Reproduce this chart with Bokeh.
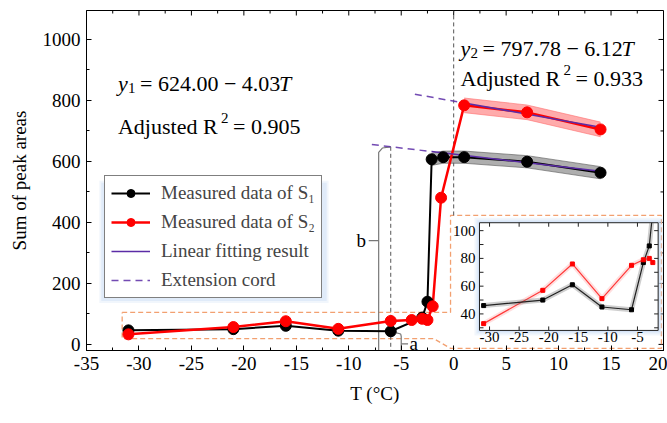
import numpy as np
from bokeh.plotting import figure
from bokeh.models import (Range1d, SingleIntervalTicker, Label, Legend, LegendItem,
                          CustomJSTickFormatter)
from bokeh.embed import file_html
from bokeh.resources import INLINE

FONT = "Liberation Serif"

# ---------------- data ----------------
T_S1 = [-31, -21, -16, -11, -6, -3, -2.5, -2.1, -1, 1, 7, 14]
V_S1 = [46, 50, 61, 45, 43, 88, 140, 607, 614, 614, 599, 563]
T_S2 = [-31, -21, -16, -11, -6, -4, -3, -2.5, -2, -1.2, 1, 7, 14]
V_S2 = [33, 57, 76, 51, 77, 80, 84, 80, 125, 481, 784, 761, 705]

FIT1 = (624.00, -4.03)
FIT2 = (797.78, -6.12)
FIT1_T = [-2.1, 14]
EXT1_T = [-7.8, -2.1]
FIT2_T = [1, 14]
EXT2_T = [-3.7, 1]

INSET_T_S1 = [-31, -21, -16, -11, -6, -4, -3]
INSET_V_S1 = [46, 50, 61, 45, 43, 77, 89]
INSET_T_S2 = [-31, -21, -16, -11, -6, -4, -3, -2.4]
INSET_V_S2 = [33, 57, 76, 51, 75, 79, 80, 77]
INSET_S1_EXIT = (-2.6, 105.7)

X_TICK_STEP = 5
Y_TICK_STEP = 200
INSET_XTICKS = [-30, -25, -20, -15, -10, -5]
INSET_YTICKS = [40, 60, 80, 100]

# ---------------- layout constants ----------------
X_RANGE = (-35, 20)
Y_RANGE = (-20, 1095)
INSET_BOX = (2.46, 19.49, 45.8, 399.0)      # where the inset frame sits (main coords)
INSET_XR = (-31.7, -1.5)
INSET_YR = (28.1, 105.7)
BAND1_HALF = 20
BAND2_HALF = 24
FRAME_W = 577
FRAME_H = 340

BLACK = "black"
RED = "#ff0000"
PURPLE = "#5b2ca6"
ORANGE = "#f2a070"
GRAY = "#555555"

p = figure(frame_width=FRAME_W, frame_height=FRAME_H,
           x_range=Range1d(*X_RANGE), y_range=Range1d(*Y_RANGE),
           output_backend="svg", toolbar_location=None,
           min_border_left=86, min_border_right=4, min_border_top=10, min_border_bottom=73)
p.xgrid.visible = False
p.ygrid.visible = False
p.outline_line_color = "black"
p.outline_line_width = 1
p.background_fill_color = "white"
p.border_fill_color = "white"

fmt = CustomJSTickFormatter(code="return String(tick);")

p.xaxis.ticker = SingleIntervalTicker(interval=X_TICK_STEP, num_minor_ticks=2)
p.yaxis.ticker = SingleIntervalTicker(interval=Y_TICK_STEP, num_minor_ticks=2)
for ax in list(p.xaxis) + list(p.yaxis):
    ax.major_tick_in = 5
    ax.major_tick_out = 0
    ax.minor_tick_in = 3
    ax.minor_tick_out = 0
    ax.axis_line_color = "black"
    ax.major_label_text_font = FONT
    ax.major_label_text_font_size = "19px"
    ax.major_label_text_color = "black"
    ax.major_label_standoff = 6
    ax.formatter = fmt
    ax.axis_label_text_font = FONT
    ax.axis_label_text_font_size = "19px"
    ax.axis_label_text_font_style = "normal"
    ax.axis_label_text_color = "black"
p.xaxis.axis_label = "T (\u00b0C)"
p.xaxis.axis_label_standoff = 10
p.yaxis.axis_label = "Sum of peak areas"
p.yaxis.axis_label_standoff = 10

px_x = FRAME_W / (X_RANGE[1] - X_RANGE[0])     # px per main x unit
px_y = FRAME_H / (Y_RANGE[1] - Y_RANGE[0])     # px per main y unit

# mirrored inward ticks on top and right edges
xt_major = np.arange(-35, 20.01, X_TICK_STEP)
xt_minor = np.arange(-32.5, 20.01, X_TICK_STEP)
yt_major = np.arange(0, 1000.01, Y_TICK_STEP)
yt_minor = np.arange(100, 1000.01, Y_TICK_STEP)
p.segment(x0=xt_major, x1=xt_major, y0=[Y_RANGE[1]] * len(xt_major),
          y1=[Y_RANGE[1] - 5 / px_y] * len(xt_major), line_color="black")
p.segment(x0=xt_minor, x1=xt_minor, y0=[Y_RANGE[1]] * len(xt_minor),
          y1=[Y_RANGE[1] - 3 / px_y] * len(xt_minor), line_color="black")
p.segment(x0=[X_RANGE[1]] * len(yt_major), x1=[X_RANGE[1] - 5 / px_x] * len(yt_major),
          y0=yt_major, y1=yt_major, line_color="black")
p.segment(x0=[X_RANGE[1]] * len(yt_minor), x1=[X_RANGE[1] - 3 / px_x] * len(yt_minor),
          y0=yt_minor, y1=yt_minor, line_color="black")


# ---------------- inset ranges (placed through extra ranges) ----------------
def extra(r_main, box0, box1, ins0, ins1):
    b = (ins1 - ins0) / (box1 - box0)
    a = ins0 - b * box0
    return Range1d(a + b * r_main[0], a + b * r_main[1])


p.extra_x_ranges = {"inset": extra(X_RANGE, INSET_BOX[0], INSET_BOX[1], *INSET_XR)}
p.extra_y_ranges = {"inset": extra(Y_RANGE, INSET_BOX[2], INSET_BOX[3], *INSET_YR)}
IN = dict(x_range_name="inset", y_range_name="inset")

# ---------------- orange dashed callout ----------------
ORANGE_X = [-31.6, -0.3, -0.3, 19.8, 19.8, -0.3, -1.9, -31.6, -31.6]
ORANGE_Y = [105, 105, 423, 423, -13, -13, 19, 19, 105]
p.line(ORANGE_X, ORANGE_Y, line_color=ORANGE, line_width=1.3, line_dash="5 3")

# ---------------- inset frame with glow ----------------
for g, a in [(5, 0.3), (3, 0.45), (1.5, 0.6)]:
    p.quad(left=INSET_BOX[0] - g / px_x, right=INSET_BOX[1] + g / px_x,
           bottom=INSET_BOX[2] - g / px_y, top=INSET_BOX[3] + g / px_y,
           fill_color="#cfe0f6", fill_alpha=a, line_color=None)
p.quad(left=INSET_XR[0], right=INSET_XR[1], bottom=INSET_YR[0], top=INSET_YR[1],
       fill_color="white", line_color="#222222", line_width=1, **IN)

in_w_px = (INSET_BOX[1] - INSET_BOX[0]) * px_x
in_h_px = (INSET_BOX[3] - INSET_BOX[2]) * px_y
dx_in = 4 * (INSET_XR[1] - INSET_XR[0]) / in_w_px
dy_in = 4 * (INSET_YR[1] - INSET_YR[0]) / in_h_px
yt_all = [30, 40, 50, 60, 70, 80, 90, 100]
p.segment(x0=[INSET_XR[0]] * len(yt_all), x1=[INSET_XR[0] + dx_in] * len(yt_all),
          y0=yt_all, y1=yt_all, line_color="#222222", line_width=1, **IN)
p.segment(x0=[INSET_XR[1]] * len(yt_all), x1=[INSET_XR[1] - dx_in] * len(yt_all),
          y0=yt_all, y1=yt_all, line_color="#222222", line_width=1, **IN)
p.segment(x0=INSET_XTICKS, x1=INSET_XTICKS, y0=[INSET_YR[0]] * len(INSET_XTICKS),
          y1=[INSET_YR[0] + dy_in] * len(INSET_XTICKS), line_color="#222222", line_width=1, **IN)
p.segment(x0=INSET_XTICKS, x1=INSET_XTICKS, y0=[INSET_YR[1]] * len(INSET_XTICKS),
          y1=[INSET_YR[1] - dy_in] * len(INSET_XTICKS), line_color="#222222", line_width=1, **IN)
p.text(x=INSET_XTICKS, y=[INSET_YR[0]] * len(INSET_XTICKS), text=[str(t) for t in INSET_XTICKS],
       text_font=FONT, text_font_size="15px", text_align="center", text_baseline="top",
       y_offset=2, text_color="black", **IN)
p.text(x=[INSET_XR[0]] * len(INSET_YTICKS), y=INSET_YTICKS, text=[str(t) for t in INSET_YTICKS],
       text_font=FONT, text_font_size="15px", text_align="right", text_baseline="middle",
       x_offset=-4, text_color="black", **IN)

# inset series (with soft glow)
p.line(INSET_T_S2, INSET_V_S2, line_color="#ff8080", line_width=5, line_alpha=0.25, **IN)
p.line(INSET_T_S2, INSET_V_S2, line_color=RED, line_width=1.2, line_alpha=0.75, **IN)
s1x = INSET_T_S1 + [INSET_S1_EXIT[0]]
s1y = INSET_V_S1 + [INSET_S1_EXIT[1]]
p.line(s1x, s1y, line_color="#606060", line_width=5, line_alpha=0.3, **IN)
p.line(s1x, s1y, line_color="#222222", line_width=1.2, **IN)
p.scatter(INSET_T_S1, INSET_V_S1, marker="square", size=4, color="black", **IN)
p.scatter(INSET_T_S2, INSET_V_S2, marker="square", size=4, color=RED, **IN)

# ---------------- guide lines and brackets ----------------
p.line([0, 0], [423, Y_RANGE[1]], line_color=GRAY, line_width=1, line_dash="4 3")
p.line([-6.0, -6.0], [648, Y_RANGE[0]], line_color=GRAY, line_width=1, line_dash="4 3")
BRACKET_B_X = [-6.0, -6.8, -7.15, -7.15]
BRACKET_B_Y = [648, 644, 630, Y_RANGE[0]]
p.line(BRACKET_B_X, BRACKET_B_Y, line_color="#777777", line_width=1.2)
p.line([-7.15, -8.1], [340, 340], line_color="#777777", line_width=1.2)
BRACKET_A_X = [-5.7, -5.05, -5.0, -5.0]
BRACKET_A_Y = [40, 34, 26, Y_RANGE[0]]
p.line(BRACKET_A_X, BRACKET_A_Y, line_color="#777777", line_width=1.2)
p.line([-5.0, -4.35], [2, 2], line_color="#777777", line_width=1.2)

# ---------------- bands around the high-temperature points ----------------
b1 = [i for i, t in enumerate(T_S1) if t >= FIT1_T[0]]
bx1 = [T_S1[i] for i in b1]
by1 = np.array([V_S1[i] for i in b1], dtype=float)
p.varea(x=bx1, y1=by1 - BAND1_HALF, y2=by1 + BAND1_HALF, fill_color="#9a9a9a", fill_alpha=0.8)
p.line(bx1, by1 + BAND1_HALF, line_color="#555555", line_width=1, line_alpha=0.6)
p.line(bx1, by1 - BAND1_HALF, line_color="#555555", line_width=1, line_alpha=0.6)

b2 = [i for i, t in enumerate(T_S2) if t >= FIT2_T[0]]
bx2 = [T_S2[i] for i in b2]
by2 = np.array([V_S2[i] for i in b2], dtype=float)
p.varea(x=bx2, y1=by2 - BAND2_HALF, y2=by2 + BAND2_HALF, fill_color="#ff9c9c", fill_alpha=0.85)
p.line(bx2, by2 + BAND2_HALF, line_color="#ff7070", line_width=1, line_alpha=0.6)
p.line(bx2, by2 - BAND2_HALF, line_color="#ff7070", line_width=1, line_alpha=0.6)

# ---------------- data lines ----------------
l1 = p.line(T_S1, V_S1, line_color=BLACK, line_width=2)
l2 = p.line(T_S2, V_S2, line_color=RED, line_width=2.5)


# ---------------- fits ----------------
def fit(coef, ts):
    t = np.array(ts, dtype=float)
    return coef[0] + coef[1] * t


f1 = p.line(FIT1_T, fit(FIT1, FIT1_T), line_color=PURPLE, line_width=1.6)
p.line(FIT2_T, fit(FIT2, FIT2_T), line_color=PURPLE, line_width=1.6)
e1 = p.line(EXT1_T, fit(FIT1, EXT1_T), line_color=PURPLE, line_width=1.5, line_dash="7 5", line_alpha=0.85)
p.line(EXT2_T, fit(FIT2, EXT2_T), line_color=PURPLE, line_width=1.5, line_dash="7 5", line_alpha=0.85)

p.scatter(T_S1, V_S1, size=11, color=BLACK)
p.scatter(T_S2, V_S2, size=11, color=RED)

# legend dummies (smaller dots as in the legend)
d1 = p.scatter([np.nan], [np.nan], size=7, color=BLACK)
d2 = p.scatter([np.nan], [np.nan], size=7, color=RED)

# legend glow
LEG_BOX = (-33.3, -12.4, 152, 520)
for g, a in [(5, 0.3), (3, 0.5)]:
    p.quad(left=LEG_BOX[0] - g / px_x, right=LEG_BOX[1] + g / px_x,
           bottom=LEG_BOX[2] - g / px_y, top=LEG_BOX[3] + g / px_y,
           fill_color="#cfe0f6", fill_alpha=a, line_color=None)

legend = Legend(items=[
    LegendItem(label="Measured data of S\u2081", renderers=[l1, d1]),
    LegendItem(label="Measured data of S\u2082", renderers=[l2, d2]),
    LegendItem(label="Linear fitting result", renderers=[f1]),
    LegendItem(label="Extension cord", renderers=[e1]),
], location=(18, 52), label_text_font=FONT, label_text_font_size="19px",
    glyph_width=39, glyph_height=20, label_height=20, label_standoff=11, spacing=7,
    padding=6, margin=0, border_line_color="black", border_line_width=1.5,
    background_fill_color="white", background_fill_alpha=1)
p.add_layout(legend)


# ---------------- texts ----------------
def label(x, y, text, dx=0, dy=0, size=22, style="normal", align="left",
          baseline="alphabetic"):
    p.add_layout(Label(x=x, y=y, x_offset=dx, y_offset=dy, text=text, text_font=FONT,
                       text_font_size=f"{size}px", text_font_style=style, text_align=align,
                       text_baseline=baseline, text_color="black"))


EQ1 = (-32.0, 856)
label(*EQ1, "y", style="italic")
label(*EQ1, "1", dx=10, dy=-5, size=15)
label(*EQ1, "= 624.00 \u2212 4.03", dx=22)
label(*EQ1, "T", dx=161, style="italic")
R1 = (-32.0, 716)
label(*R1, "Adjusted R")
label(*R1, "2", dx=103, dy=8, size=15)
label(*R1, "= 0.905", dx=115)

EQ2 = (0.65, 971)
label(*EQ2, "y", style="italic")
label(*EQ2, "2", dx=10, dy=-5, size=15)
label(*EQ2, "= 797.78 \u2212 6.12", dx=22)
label(*EQ2, "T", dx=161, style="italic")
R2 = (0.65, 873)
label(*R2, "Adjusted R")
label(*R2, "2", dx=103, dy=8, size=15)
label(*R2, "= 0.933", dx=115)

label(-8.8, 340, "b", size=19, align="center", baseline="middle")
label(-3.8, 2, "a", size=19, align="center", baseline="middle")

open("out.html", "w").write(file_html(p, INLINE))
